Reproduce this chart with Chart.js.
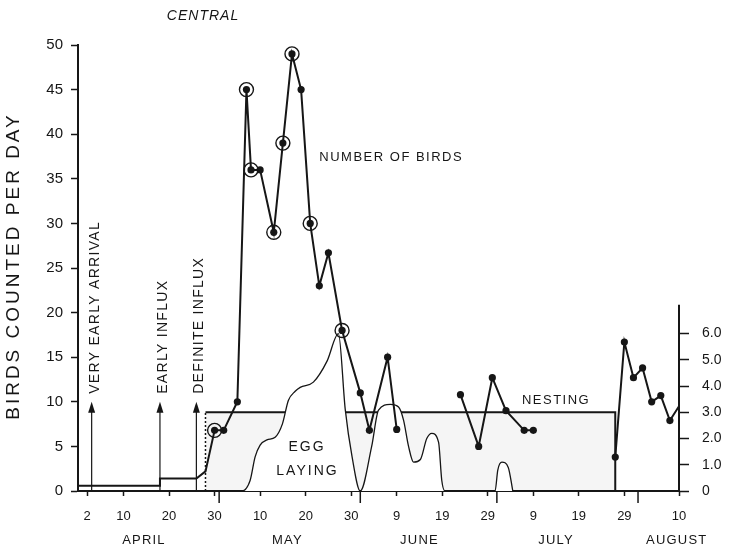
<!DOCTYPE html>
<html>
<head>
<meta charset="utf-8">
<script src="https://cdn.jsdelivr.net/npm/chart.js@4.4.1/dist/chart.umd.min.js"></script>
<style>
  html, body { margin: 0; padding: 0; background: #fff; }
  #wrap { width: 742px; height: 550px; }
</style>
</head>
<body>
<div id="wrap"><canvas id="chart" width="742" height="550"></canvas></div>
<script>
// -- Data (x = day counted from 31 March, so 1 April = 1) -----------------

const dayTicks = [2, 10, 20, 30, 40, 50, 60, 70, 80, 90, 100, 110, 120, 132];
const dayTickLabels = ["2", "10", "20", "30", "10", "20", "30", "9", "19", "29", "9", "19", "29", "10"];
const monthStarts = [31, 62, 92, 123];
const monthNames = ["APRIL", "MAY", "JUNE", "JULY", "AUGUST"];
const monthCentres = [14.5, 46, 75, 105, 131.5];

// birds counted per day (left axis); null = no counts
const birdDays = [30, 32, 35, 37, 38, 40, 43, 45, 47, 49, 51, 53, 55, 58, 62, 64, 68, 70,
  77, 84, 88, 91, 94, 98, 100,
  109, 118, 120, 122, 124, 126, 128, 130, 132];
const birdCounts = [6.8, 6.8, 10, 45, 36, 36, 29, 39, 49, 45, 30, 23, 26.7, 18, 11, 6.8, 15, 6.9,
  null, 10.8, 5, 12.7, 9, 6.8, 6.8,
  null, 3.8, 16.7, 12.7, 13.8, 10, 10.7, 7.9, 9.5];
const circledDays = [30, 37, 38, 43, 45, 47, 51, 58];

// early low counts before the first plotted day
const earlyDays = [0, 18, 18, 26, 28, 30];
const earlyCounts = [0.6, 0.6, 1.4, 1.4, 2.2, 6.8];

// egg laying (right axis)
const eggDays = [31, 36, 37.8, 38.9, 40, 41.5, 43.3, 44.9, 46.2, 47.7, 48.8, 51.7, 54.7, 57.2,
  58.7, 60.2, 62, 64.5, 66, 68.6, 70.4, 71.5, 72.6, 73.7, 75.2, 76.6, 77.7, 79.2, 79.9, 80.6,
  91.6, 92.2, 93.1, 94.5, 95.5];
const eggValues = [0, 0, 0.4, 1.3, 1.75, 1.95, 2.05, 2.56, 3.45, 3.8, 3.95, 4.15, 4.95, 6.0,
  3.1, 1.3, 0, 1.7, 3.08, 3.3, 3.2, 2.7, 1.7, 1.1, 1.2, 2.0, 2.2, 1.85, 0.4, 0,
  0, 0.8, 1.1, 0.9, 0];
const eggTicks = [0, 1, 2, 3, 4, 5, 6];

// nesting period (right-axis level 3.0)
const nestingDays = [28, 28, 118, 118];
const nestingLevel = [0, 3, 3, 0];

// arrows marking arrival stages
const arrowDays = [3, 18, 26];
const arrowLabels = ["VERY EARLY ARRIVAL", "EARLY INFLUX", "DEFINITE INFLUX"];

// -- Helpers ---------------------------------------------------------------

const FONT = "'Liberation Sans', Arial, sans-serif";
const INK = "#161616";

const pts = (xs, ys) => xs.map((x, i) => ({ x, y: ys[i] }));

function drawText(ctx, str, px, py, opts = {}) {
  ctx.save();
  ctx.translate(px, py);
  if (opts.rotate) ctx.rotate(opts.rotate);
  ctx.font = opts.font || `13px ${FONT}`;
  ctx.letterSpacing = opts.spacing || "0px";
  ctx.fillStyle = INK;
  ctx.textAlign = opts.align || "center";
  ctx.textBaseline = "middle";
  ctx.fillText(str, 0, 0);
  ctx.restore();
}

// labels, arrows, month names and the short right axis line
const notesPlugin = {
  id: "notes",
  afterDatasetsDraw(chart) {
    const { ctx, scales: { x, y } } = chart;

    // arrows with rotated captions
    arrowDays.forEach((d, i) => {
      const px = x.getPixelForValue(d);
      const base = y.getPixelForValue(0);
      const tip = y.getPixelForValue(10);
      ctx.save();
      ctx.strokeStyle = INK;
      ctx.fillStyle = INK;
      ctx.lineWidth = 1.2;
      ctx.beginPath();
      ctx.moveTo(px, base);
      ctx.lineTo(px, tip + 4);
      ctx.stroke();
      ctx.beginPath();
      ctx.moveTo(px, tip);
      ctx.lineTo(px - 3.5, tip + 11);
      ctx.lineTo(px + 3.5, tip + 11);
      ctx.closePath();
      ctx.fill();
      ctx.restore();
      drawText(ctx, arrowLabels[i], px + 3, tip - 8, {
        rotate: -Math.PI / 2, align: "left", font: `14px ${FONT}`, spacing: "1.3px",
      });
    });

    drawText(ctx, "NUMBER OF BIRDS", x.getPixelForValue(68.8), y.getPixelForValue(37.4),
      { font: `13px ${FONT}`, spacing: "1.5px" });
    drawText(ctx, "EGG", x.getPixelForValue(50.3), y.getPixelForValue(4.9),
      { font: `14px ${FONT}`, spacing: "2px" });
    drawText(ctx, "LAYING", x.getPixelForValue(50.4), y.getPixelForValue(2.2),
      { font: `14px ${FONT}`, spacing: "2px" });
    drawText(ctx, "NESTING", x.getPixelForValue(105), y.getPixelForValue(10.2),
      { font: `13px ${FONT}`, spacing: "1.5px" });
  },
  afterDraw(chart) {
    const { ctx, chartArea, scales: { x, y2 } } = chart;

    // right axis only runs a little above 6.0
    ctx.save();
    ctx.strokeStyle = INK;
    ctx.lineWidth = 2;
    ctx.beginPath();
    ctx.moveTo(chartArea.right, y2.getPixelForValue(0) + 1);
    ctx.lineTo(chartArea.right, y2.getPixelForValue(7.1));
    ctx.stroke();

    // longer marks at month boundaries
    ctx.lineWidth = 1.5;
    monthStarts.forEach((d) => {
      const px = x.getPixelForValue(d);
      ctx.beginPath();
      ctx.moveTo(px, chartArea.bottom);
      ctx.lineTo(px, chartArea.bottom + 12);
      ctx.stroke();
    });
    ctx.restore();

    monthNames.forEach((m, i) => {
      drawText(ctx, m, x.getPixelForValue(monthCentres[i]), chartArea.bottom + 49,
        { font: `13px ${FONT}`, spacing: "1.2px" });
    });

    drawText(ctx, "CENTRAL", 203, 16, { font: `italic 14px ${FONT}`, spacing: "1px" });
    drawText(ctx, "BIRDS COUNTED PER DAY", 14, 266, {
      rotate: -Math.PI / 2, font: `19px ${FONT}`, spacing: "3px",
    });
  },
};

// -- Chart -----------------------------------------------------------------

const tickFont = { family: FONT, size: 13 };

new Chart(document.getElementById("chart"), {
  type: "line",
  data: {
    datasets: [
      {
        // nesting block
        data: pts(nestingDays, nestingLevel),
        yAxisID: "y2",
        borderColor: INK,
        borderWidth: 2,
        backgroundColor: "rgba(0,0,0,0.04)",
        fill: "origin",
        pointRadius: 0,
        tension: 0,
        segment: {
          borderDash: (c) => (c.p0DataIndex === 0 ? [2, 2] : undefined),
          borderWidth: (c) => (c.p0DataIndex === 0 ? 1.5 : 2),
        },
        order: 5,
      },
      {
        // egg laying curve
        data: pts(eggDays, eggValues),
        yAxisID: "y2",
        borderColor: INK,
        borderWidth: 1.3,
        backgroundColor: "#ffffff",
        fill: "origin",
        pointRadius: 0,
        cubicInterpolationMode: "monotone",
        order: 4,
      },
      {
        // early low counts
        data: pts(earlyDays, earlyCounts),
        yAxisID: "y",
        borderColor: INK,
        borderWidth: 2,
        pointRadius: 0,
        tension: 0,
        order: 3,
      },
      {
        // number of birds
        data: pts(birdDays, birdCounts),
        yAxisID: "y",
        borderColor: INK,
        borderWidth: 2,
        backgroundColor: INK,
        pointRadius: (c) => (c.dataIndex === birdDays.length - 1 ? 0 : 3.6),
        pointBorderWidth: 0,
        spanGaps: false,
        tension: 0,
        order: 2,
      },
      {
        // circled counts
        data: circledDays.map((d) => ({ x: d, y: birdCounts[birdDays.indexOf(d)] })),
        yAxisID: "y",
        showLine: false,
        pointRadius: 7,
        pointBorderWidth: 1.4,
        pointBorderColor: INK,
        pointBackgroundColor: "rgba(0,0,0,0)",
        order: 1,
      },
    ],
  },
  options: {
    responsive: false,
    animation: false,
    devicePixelRatio: 1,
    layout: { padding: { top: 45, left: 0, right: 0, bottom: 0 } },
    plugins: { legend: { display: false }, tooltip: { enabled: false } },
    scales: {
      x: {
        type: "linear",
        min: 0,
        max: 132,
        afterBuildTicks: (s) => { s.ticks = dayTicks.map((v) => ({ value: v })); },
        afterFit: (s) => { s.height = 59; },
        ticks: {
          autoSkip: false,
          maxRotation: 0,
          padding: 13,
          color: INK,
          font: tickFont,
          callback: (v, i) => dayTickLabels[i],
        },
        grid: { drawOnChartArea: false, tickLength: 5, tickColor: INK, tickWidth: 1.5 },
        border: { color: INK, width: 2 },
      },
      y: {
        position: "left",
        min: 0,
        max: 50,
        afterFit: (s) => { s.width = 78; },
        ticks: { stepSize: 5, padding: 8, color: INK, font: { family: FONT, size: 15 } },
        grid: { drawOnChartArea: false, tickLength: 7, tickColor: INK, tickWidth: 1.5 },
        border: { color: INK, width: 2 },
      },
      y2: {
        position: "right",
        min: 0,
        max: 17,
        afterBuildTicks: (s) => { s.ticks = eggTicks.map((v) => ({ value: v })); },
        afterFit: (s) => { s.width = 63; },
        ticks: {
          padding: 13,
          color: INK,
          font: { family: FONT, size: 14 },
          callback: (v) => (v === 0 ? "0" : v.toFixed(1)),
        },
        grid: { drawOnChartArea: false, tickLength: 10, tickColor: INK, tickWidth: 1.5 },
        border: { display: false },
      },
    },
  },
  plugins: [notesPlugin],
});
</script>
</body>
</html>
